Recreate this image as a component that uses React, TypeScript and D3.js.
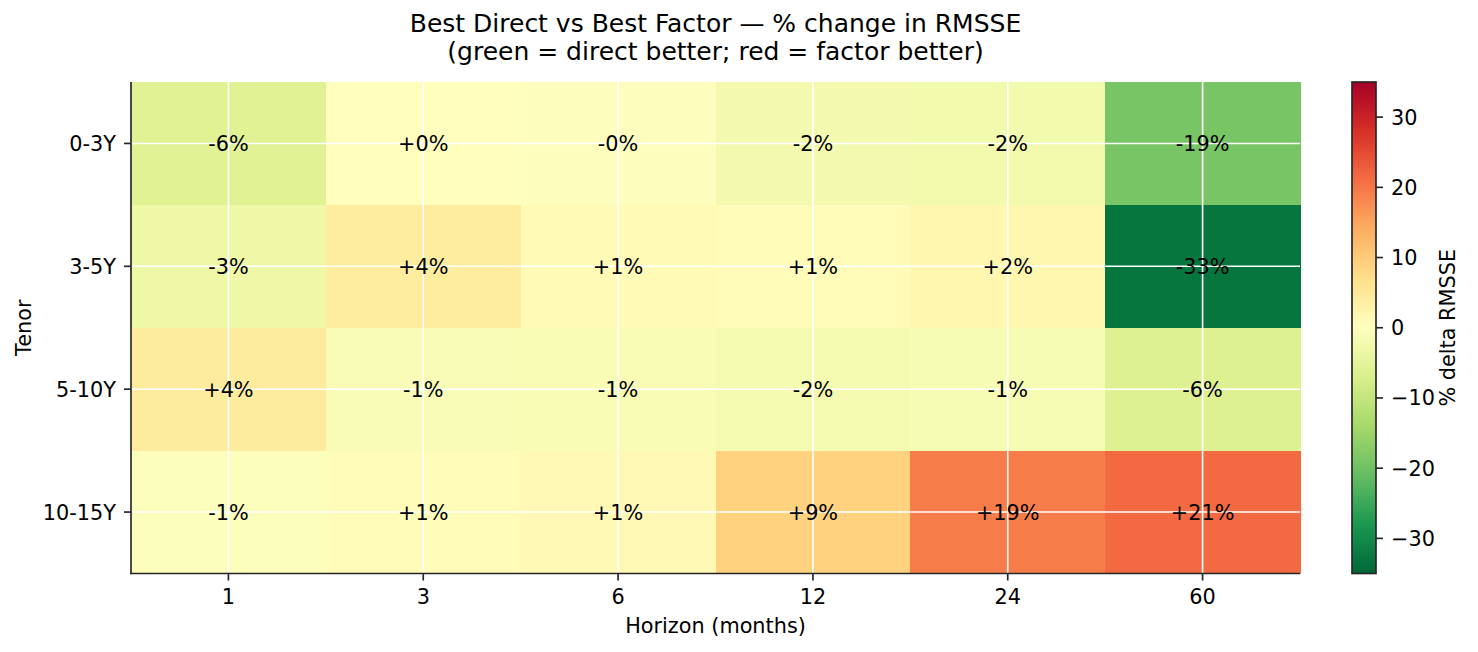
import { useMemo } from 'react'
import * as d3 from 'd3'

const W = 1478
const H = 652
const FONT = 'DejaVu Sans, sans-serif'

const horizons = ['1', '3', '6', '12', '24', '60']
const tenors = ['0-3Y', '3-5Y', '5-10Y', '10-15Y']

// % change in RMSSE, one array per tenor row
const row03 = [-5.8, 0.3, -0.3, -2.2, -2.4, -19.0]
const row35 = [-3.2, 4.3, 1.2, 1.0, 2.1, -33.0]
const row510 = [4.4, -1.2, -1.3, -2.1, -1.4, -6.0]
const row1015 = [-0.6, 1.0, 1.4, 9.0, 19.3, 21.3]
const rows = [row03, row35, row510, row1015]

const cbTicks = [-30, -20, -10, 0, 10, 20, 30]

// matplotlib RdYlGn, reversed through the domain
const RDYLGN = [
  '#a50026', '#d73027', '#f46d43', '#fdae61', '#fee08b', '#ffffbf',
  '#d9ef8b', '#a6d96a', '#66bd63', '#1a9850', '#006837',
]
const VMIN = -35
const VMAX = 35

const M = { left: 131, right: 1300, top: 82, bottom: 573.5 }
const CB = { x: 1352, w: 24 }
const FS = 20.8

const fmtCell = (v: number) => `${v >= 0 ? '+' : '-'}${Math.abs(v).toFixed(0)}%`

export default function App() {
  const x = useMemo(
    () => d3.scaleBand().domain(horizons).range([M.left, M.right]).padding(0),
    []
  )
  const y = useMemo(
    () => d3.scaleBand().domain(tenors).range([M.top, M.bottom]).padding(0),
    []
  )
  const color = useMemo(
    () =>
      d3
        .scaleLinear<string>()
        .domain(d3.range(11).map((i) => VMAX - (i * (VMAX - VMIN)) / 10))
        .range(RDYLGN)
        .interpolate(d3.interpolateRgb)
        .clamp(true),
    []
  )
  const cbY = useMemo(
    () => d3.scaleLinear().domain([VMIN, VMAX]).range([M.bottom, M.top]),
    []
  )
  const fmtTick = d3.format('d')
  const stops = d3.range(0, 101).map((i) => VMIN + ((VMAX - VMIN) * i) / 100)

  const bw = x.bandwidth()
  const bh = y.bandwidth()

  return (
    <svg width={W} height={H} style={{ display: 'block', position: 'absolute', left: 0, top: 0 }} fontFamily={FONT}>
      <rect width={W} height={H} fill="#fff" />
      <defs>
        <linearGradient id="cbar" x1="0" y1="1" x2="0" y2="0">
          {stops.map((v, i) => (
            <stop key={i} offset={`${i}%`} stopColor={color(v)} />
          ))}
        </linearGradient>
      </defs>

      {/* title */}
      <text x={(M.left + M.right) / 2 + 0} y={31.5} textAnchor="middle" fontSize={25} fill="#000">
        Best Direct vs Best Factor — % change in RMSSE
      </text>
      <text x={(M.left + M.right) / 2} y={60} textAnchor="middle" fontSize={25} fill="#000">
        (green = direct better; red = factor better)
      </text>

      {/* cells */}
      <g shapeRendering="crispEdges">
        {rows.map((vals, r) =>
          vals.map((v, c) => (
            <rect
              key={`${r}-${c}`}
              x={x(horizons[c])}
              y={y(tenors[r])}
              width={bw + 0.5}
              height={bh + 0.5}
              fill={color(v)}
            />
          ))
        )}
      </g>

      {/* grid */}
      <g stroke="#fff" strokeWidth={1.6}>
        {horizons.map((h) => (
          <line key={h} x1={x(h)! + bw / 2} x2={x(h)! + bw / 2} y1={M.top} y2={M.bottom} />
        ))}
        {tenors.map((t) => (
          <line key={t} x1={M.left} x2={M.right} y1={y(t)! + bh / 2} y2={y(t)! + bh / 2} />
        ))}
      </g>

      {/* cell labels */}
      <g fontSize={FS} fill="#000" textAnchor="middle">
        {rows.map((vals, r) =>
          vals.map((v, c) => (
            <text
              key={`${r}-${c}`}
              x={x(horizons[c])! + bw / 2}
              y={y(tenors[r])! + bh / 2}
              dy="0.36em"
            >
              {fmtCell(v)}
            </text>
          ))
        )}
      </g>

      {/* axes */}
      <g stroke="#262626" strokeWidth={1.67}>
        <line x1={M.left} x2={M.left} y1={M.top} y2={M.bottom + 0.8} />
        <line x1={M.left - 0.8} x2={M.right} y1={M.bottom} y2={M.bottom} />
        {horizons.map((h) => (
          <line key={h} x1={x(h)! + bw / 2} x2={x(h)! + bw / 2} y1={M.bottom} y2={M.bottom + 7} />
        ))}
        {tenors.map((t) => (
          <line key={t} x1={M.left - 7} x2={M.left} y1={y(t)! + bh / 2} y2={y(t)! + bh / 2} />
        ))}
      </g>
      <g fontSize={FS} fill="#000">
        {horizons.map((h) => (
          <text key={h} x={x(h)! + bw / 2} y={604} textAnchor="middle">
            {h}
          </text>
        ))}
        {tenors.map((t) => (
          <text key={t} x={116} y={y(t)! + bh / 2} dy="0.36em" textAnchor="end">
            {t}
          </text>
        ))}
        <text x={(M.left + M.right) / 2} y={633} textAnchor="middle">
          Horizon (months)
        </text>
        <text transform={`translate(31, ${(M.top + M.bottom) / 2}) rotate(-90)`} textAnchor="middle">
          Tenor
        </text>
      </g>

      {/* colorbar */}
      <rect x={CB.x} y={M.top} width={CB.w} height={M.bottom - M.top} fill="url(#cbar)" />
      <rect
        x={CB.x}
        y={M.top}
        width={CB.w}
        height={M.bottom - M.top}
        fill="none"
        stroke="#262626"
        strokeWidth={1.67}
      />
      <g stroke="#262626" strokeWidth={1.67}>
        {cbTicks.map((t) => (
          <line key={t} x1={CB.x + CB.w} x2={CB.x + CB.w + 7} y1={cbY(t)} y2={cbY(t)} />
        ))}
      </g>
      <g fontSize={FS} fill="#000">
        {cbTicks.map((t) => (
          <text key={t} x={CB.x + CB.w + 15} y={cbY(t)} dy="0.36em">
            {fmtTick(t)}
          </text>
        ))}
        <text transform={`translate(1455, ${(M.top + M.bottom) / 2}) rotate(-90)`} textAnchor="middle">
          % delta RMSSE
        </text>
      </g>
    </svg>
  )
}
